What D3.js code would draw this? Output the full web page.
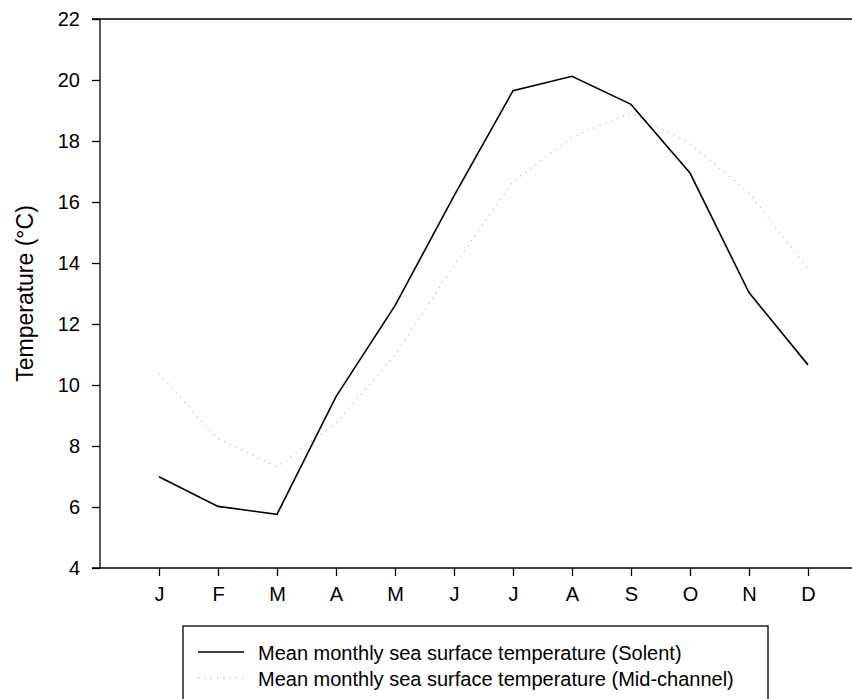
<!DOCTYPE html>
<html>
<head>
<meta charset="utf-8">
<script src="https://cdn.jsdelivr.net/npm/d3@7"></script>
<style>
  body { margin: 0; background: #fff; }
  svg { display: block; font-family: "Liberation Sans", Arial, sans-serif; }
</style>
</head>
<body>
<svg id="chart" width="852" height="699"></svg>
<script>
// monthly means
var months = ["J", "F", "M", "A", "M", "J", "J", "A", "S", "O", "N", "D"];
var solent = [6.99, 6.02, 5.76, 9.62, 12.6, 16.2, 19.65, 20.12, 19.2, 16.95, 13.03, 10.66];
var midChannel = [10.37, 8.23, 7.32, 8.75, 10.98, 13.92, 16.67, 18.12, 18.92, 17.92, 16.3, 13.82];
var yTicks = [4, 6, 8, 10, 12, 14, 16, 18, 20, 22];
var legendLabels = [
  "Mean monthly sea surface temperature (Solent)",
  "Mean monthly sea surface temperature (Mid-channel)"
];

var svg = d3.select("#chart"),
    plotLeft = 100, plotTop = 19, plotBottom = 568, plotRight = 852;

var x = d3.scaleLinear().domain([0, 12.5]).range([plotLeft, plotLeft + 12.5 * 59]);
var y = d3.scaleLinear().domain([4, 22]).range([plotBottom, plotTop]);

// frame: top line + axes
svg.append("line")
    .attr("x1", plotLeft - 8).attr("x2", plotRight)
    .attr("y1", plotTop).attr("y2", plotTop)
    .attr("stroke", "#000").attr("stroke-width", 1.3);

var yAxis = svg.append("g")
    .attr("transform", "translate(" + plotLeft + ",0)")
    .call(d3.axisLeft(y).tickValues(yTicks).tickSize(8).tickPadding(12));
yAxis.select(".domain").attr("d", "M0," + plotTop + "V" + plotBottom);

var xAxis = svg.append("g")
    .attr("transform", "translate(0," + plotBottom + ")")
    .call(d3.axisBottom(x)
        .tickValues(d3.range(1, 13))
        .tickFormat(function (d) { return months[d - 1]; })
        .tickSize(8).tickPadding(11));
xAxis.select(".domain").attr("d", "M" + (plotLeft - 8) + ",0H" + plotRight);

svg.selectAll("g").attr("font-size", null).attr("font-family", null);
svg.selectAll(".tick text")
    .style("font-size", "20px")
    .attr("fill", "#000");
svg.selectAll(".domain, .tick line").attr("stroke", "#000").attr("stroke-width", 1.3);

svg.append("text")
    .attr("transform", "translate(33," + (plotTop + plotBottom) / 2 + ") rotate(-90)")
    .attr("text-anchor", "middle")
    .attr("font-size", 23)
    .text("Temperature (°C)");

var line = d3.line()
    .x(function (d, i) { return x(i + 1); })
    .y(function (d) { return y(d); });

svg.append("path")
    .datum(midChannel)
    .attr("d", line)
    .attr("fill", "none")
    .attr("stroke", "#c4c4c4")
    .attr("stroke-width", 1.3)
    .attr("stroke-dasharray", "1.3,5");

svg.append("path")
    .datum(solent)
    .attr("d", line)
    .attr("fill", "none")
    .attr("stroke", "#000")
    .attr("stroke-width", 1.6);

// legend
var lg = svg.append("g").attr("transform", "translate(183,626)");
lg.append("rect")
    .attr("width", 585).attr("height", 80)
    .attr("fill", "#fff").attr("stroke", "#000").attr("stroke-width", 1.3);

var styles = [
  { stroke: "#000", dash: null, w: 1.6 },
  { stroke: "#c4c4c4", dash: "1.3,5", w: 1.3 }
];
legendLabels.forEach(function (t, i) {
  var yy = 26 + i * 26;
  lg.append("line")
      .attr("x1", 15).attr("x2", 61)
      .attr("y1", yy).attr("y2", yy)
      .attr("stroke", styles[i].stroke)
      .attr("stroke-width", styles[i].w)
      .attr("stroke-dasharray", styles[i].dash);
  lg.append("text")
      .attr("x", 75).attr("y", yy + 8)
      .attr("font-size", 20)
      .text(t);
});
</script>
</body>
</html>
